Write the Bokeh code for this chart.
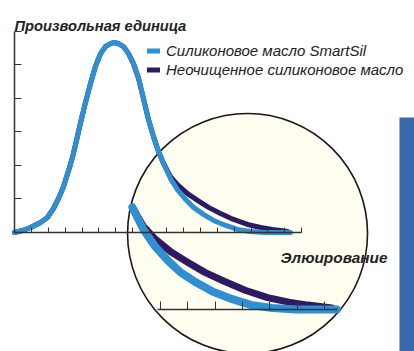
from bokeh.plotting import figure
from bokeh.models import (Range1d, LinearAxis, SingleIntervalTicker, CustomJSTickFormatter,
                          Legend, LegendItem, Label)
from bokeh.embed import file_html
from bokeh.resources import INLINE

# ---- data (x: elution in tick units, y: arbitrary units) ----
smartsil_x = [0, 0.47, 0.95, 1.54, 1.95, 2.31, 2.60, 2.90, 3.20, 3.43, 3.67, 3.91, 4.20, 4.50, 4.79,
              5.09, 5.38, 5.68, 5.86, 6.15, 6.45, 6.75, 7.04, 7.34, 7.63, 7.93, 8.22, 8.52, 8.82,
              9.23, 9.64, 10.12, 10.59, 11.18, 11.78, 12.49, 13.20, 13.96, 14.85, 16.33]
smartsil_y = [0, 0.06, 0.15, 0.30, 0.45, 0.72, 1.01, 1.37, 1.85, 2.24, 2.75, 3.28, 3.88, 4.45, 4.96,
              5.34, 5.55, 5.64, 5.67, 5.64, 5.55, 5.34, 5.04, 4.60, 4.00, 3.37, 2.87, 2.42, 2.06,
              1.61, 1.28, 0.99, 0.75, 0.54, 0.36, 0.21, 0.09, 0.03, 0.0, 0.0]
crude_x = [0, 0.47, 0.95, 1.54, 1.95, 2.31, 2.60, 2.90, 3.20, 3.43, 3.67, 3.91, 4.20, 4.50, 4.79,
           5.09, 5.38, 5.68, 5.86, 6.15, 6.45, 6.75, 7.04, 7.34, 7.63, 7.93, 8.22, 8.52, 8.82,
           9.23, 9.64, 10.24, 10.83, 11.48, 12.19, 12.96, 13.79, 14.56, 15.27, 16.15]
crude_y = [0, 0.06, 0.15, 0.30, 0.45, 0.72, 1.01, 1.37, 1.85, 2.24, 2.75, 3.28, 3.88, 4.45, 4.96,
           5.34, 5.55, 5.64, 5.67, 5.64, 5.55, 5.34, 5.04, 4.60, 4.00, 3.37, 2.87, 2.42, 2.06,
           1.67, 1.43, 1.16, 0.96, 0.75, 0.57, 0.39, 0.24, 0.15, 0.09, 0.03]
series_labels = ["Силиконовое масло SmartSil", "Неочищенное силиконовое масло"]
y_label = "Произвольная единица"
x_label = "Элюирование"

BLUE = "#2F8FD1"
DARK = "#2D1A63"
AXIS = "#333333"

# ---- magnified inset transform ----
ZOOM_FROM = 8.82
IN_X0, IN_KX = 6.98, 1.61
IN_Y0, IN_KY = -2.30, 1.48


def inset(xs, ys):
    px, py = [], []
    for a, b in zip(xs, ys):
        if a >= ZOOM_FROM:
            px.append(IN_X0 + IN_KX * (a - ZOOM_FROM))
            py.append(IN_Y0 + IN_KY * b)
    return px, py


W, H = 414, 351
p = figure(width=W, height=H, x_range=Range1d(-0.828, 23.669), y_range=Range1d(-3.552, 6.925),
           output_backend="svg", toolbar_location=None, x_axis_location=None, y_axis_location=None,
           min_border=0, outline_line_color=None, background_fill_color="white")
p.xgrid.visible = False
p.ygrid.visible = False

# decorative circle (magnifier) and side bar
p.ellipse(x=[13.79], y=[-0.03], width=14.20, height=7.164, fill_color="#FFFEF1",
          line_color="#1a1a1a", line_width=1.6)
p.quad(left=[22.78], right=[24.5], top=[3.433], bottom=[-4.0], fill_color="#3A69AD", line_color=None)

# main curves
r_dark = p.line(crude_x, crude_y, line_color=DARK, line_width=5, line_cap="round", line_join="round")
r_blue = p.line(smartsil_x, smartsil_y, line_color=BLUE, line_width=5, line_cap="round", line_join="round")

# inset curves
cx_i, cy_i = inset(crude_x, crude_y)
sx_i, sy_i = inset(smartsil_x, smartsil_y)
p.line(cx_i, cy_i, line_color=DARK, line_width=7, line_cap="round", line_join="round")
p.line(sx_i, sy_i, line_color=BLUE, line_width=8, line_cap="round", line_join="round")

blank = CustomJSTickFormatter(code="return ''")

xax = LinearAxis(fixed_location=0, bounds=(0, 17), ticker=SingleIntervalTicker(interval=1),
                 major_tick_in=5, major_tick_out=0, minor_tick_line_color=None, formatter=blank,
                 axis_line_color=AXIS, axis_line_width=1.5, major_tick_line_color=AXIS)
p.add_layout(xax, "below")
yax = LinearAxis(fixed_location=0, bounds=(0, 6), ticker=SingleIntervalTicker(interval=1),
                 major_tick_in=7, major_tick_out=0, minor_tick_line_color=None, formatter=blank,
                 axis_line_color=AXIS, axis_line_width=1.5, major_tick_line_color=AXIS)
p.add_layout(yax, "left")

p.extra_x_ranges = {"inset": Range1d(-5.861, 9.304)}
iax = LinearAxis(x_range_name="inset", fixed_location=IN_Y0, bounds=(-0.11, 6.48),
                 ticker=SingleIntervalTicker(interval=1), major_tick_in=8, major_tick_out=0,
                 minor_tick_line_color=None, formatter=blank, axis_line_color=AXIS,
                 axis_line_width=1.3, major_tick_line_color=AXIS)
p.add_layout(iax, "below")

legend = Legend(items=[LegendItem(label=series_labels[0], renderers=[r_blue]),
                       LegendItem(label=series_labels[1], renderers=[r_dark])],
                location=(147, 272), orientation="vertical", padding=0, margin=0, spacing=0,
                glyph_width=13, glyph_height=19, label_height=19, label_standoff=6,
                label_text_font="Liberation Sans", label_text_font_style="italic",
                label_text_font_size="15px", label_text_color="#222222",
                border_line_color=None, background_fill_alpha=0)
p.add_layout(legend, "center")

p.add_layout(Label(x=14, y=H - 25, x_units="screen", y_units="screen", text=y_label,
                   text_font="Liberation Sans", text_font_style="bold italic",
                   text_font_size="14.7px", text_color="#222222", text_baseline="alphabetic"))
p.add_layout(Label(x=280, y=H - 257, x_units="screen", y_units="screen", text=x_label,
                   text_font="Liberation Sans", text_font_style="bold italic",
                   text_font_size="15.4px", text_color="#222222", text_baseline="alphabetic"))

open("out.html", "w").write(file_html(p, INLINE))
